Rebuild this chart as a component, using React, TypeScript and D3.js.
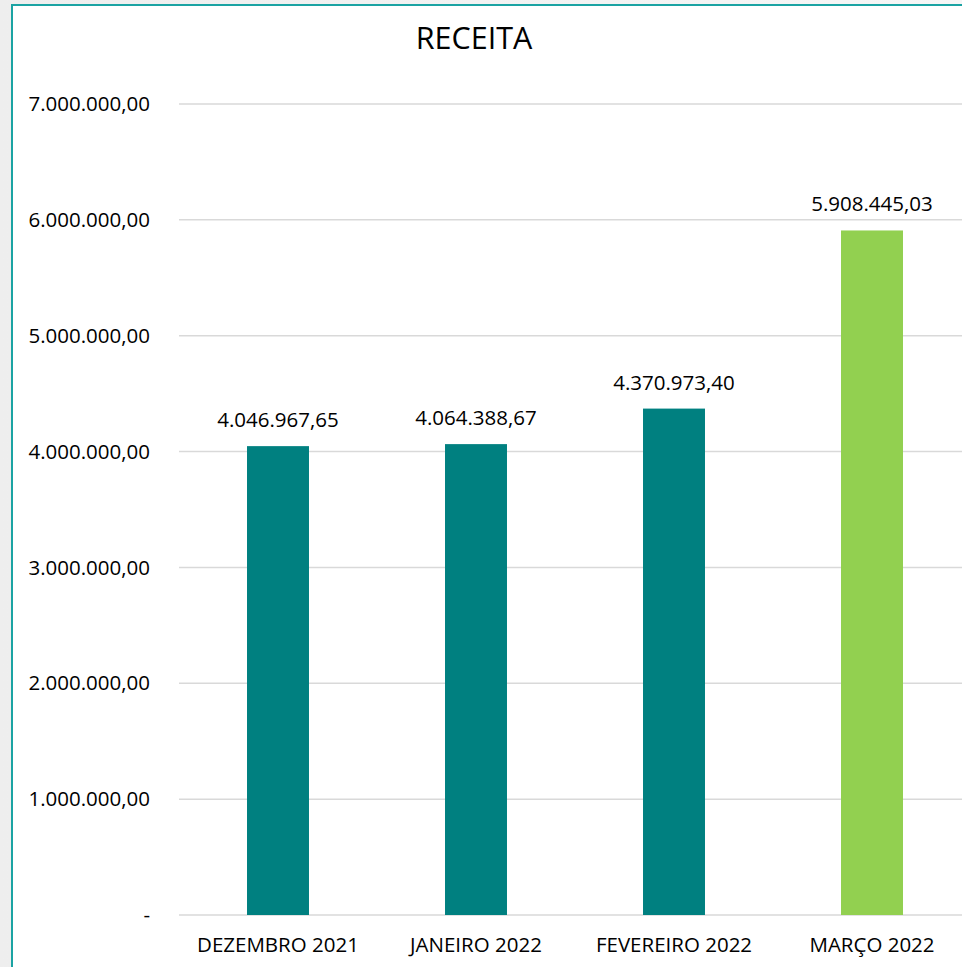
import React from "react";
import * as d3 from "d3";

const categories = ["DEZEMBRO 2021", "JANEIRO 2022", "FEVEREIRO 2022", "MARÇO 2022"];
const values = [4046967.65, 4064388.67, 4370973.4, 5908445.03];
const barColors = ["#008080", "#008080", "#008080", "#92D050"];
const yTicks = [0, 1000000, 2000000, 3000000, 4000000, 5000000, 6000000, 7000000];

const W = 962;
const H = 967;
const FONT = "'Open Sans', Lato, sans-serif";
const FS = 20.5;

const fmt = (v: number) => {
  const fixed = v.toFixed(2);
  const [intPart, dec] = fixed.split(".");
  const withDots = intPart.replace(/\B(?=(\d{3})+(?!\d))/g, ".");
  return `${withDots},${dec}`;
};

export default function App() {
  const x = d3
    .scaleBand<string>()
    .domain(categories)
    .range([179, 971])
    .paddingInner(0.687)
    .paddingOuter(0.3435);
  const y = d3.scaleLinear().domain([0, 7000000]).range([915, 104]);

  return (
    <svg
      width={W}
      height={H}
      style={{ position: "absolute", left: 0, top: 0, display: "block" }}
    >
      <defs>
        <linearGradient id="bgGrad" x1="0" y1="0" x2="1" y2="0">
          <stop offset="0" stopColor="#eeeeee" />
          <stop offset="1" stopColor="#f6f6f6" />
        </linearGradient>
      </defs>
      <rect x={0} y={0} width={W} height={H} fill="url(#bgGrad)" />
      <rect x={12} y={5} width={W} height={H} fill="#ffffff" stroke="#1BA3A3" strokeWidth={2} />

      <text x={474} y={49} textAnchor="middle" fontFamily={FONT} fontSize={30.5} fill="#000">
        RECEITA
      </text>

      {yTicks.map((t) => (
        <g key={t}>
          <line x1={179} x2={W} y1={y(t)} y2={y(t)} stroke="#d9d9d9" strokeWidth={1.5} />
          <text
            x={150}
            y={y(t)}
            dy="0.35em"
            textAnchor="end"
            fontFamily={FONT}
            fontSize={FS}
            fill="#000"
          >
            {t === 0 ? "-" : fmt(t)}
          </text>
        </g>
      ))}

      {categories.map((c, i) => (
        <g key={c}>
          <rect
            x={x(c)!}
            y={y(values[i])}
            width={x.bandwidth()}
            height={y(0) - y(values[i])}
            fill={barColors[i]}
          />
          <text
            x={x(c)! + x.bandwidth() / 2}
            y={y(values[i]) - 19}
            textAnchor="middle"
            fontFamily={FONT}
            fontSize={FS}
            fill="#000"
          >
            {fmt(values[i])}
          </text>
          <text
            x={x(c)! + x.bandwidth() / 2}
            y={952}
            textAnchor="middle"
            fontFamily={FONT}
            fontSize={FS}
            fill="#000"
          >
            {c}
          </text>
        </g>
      ))}
    </svg>
  );
}
